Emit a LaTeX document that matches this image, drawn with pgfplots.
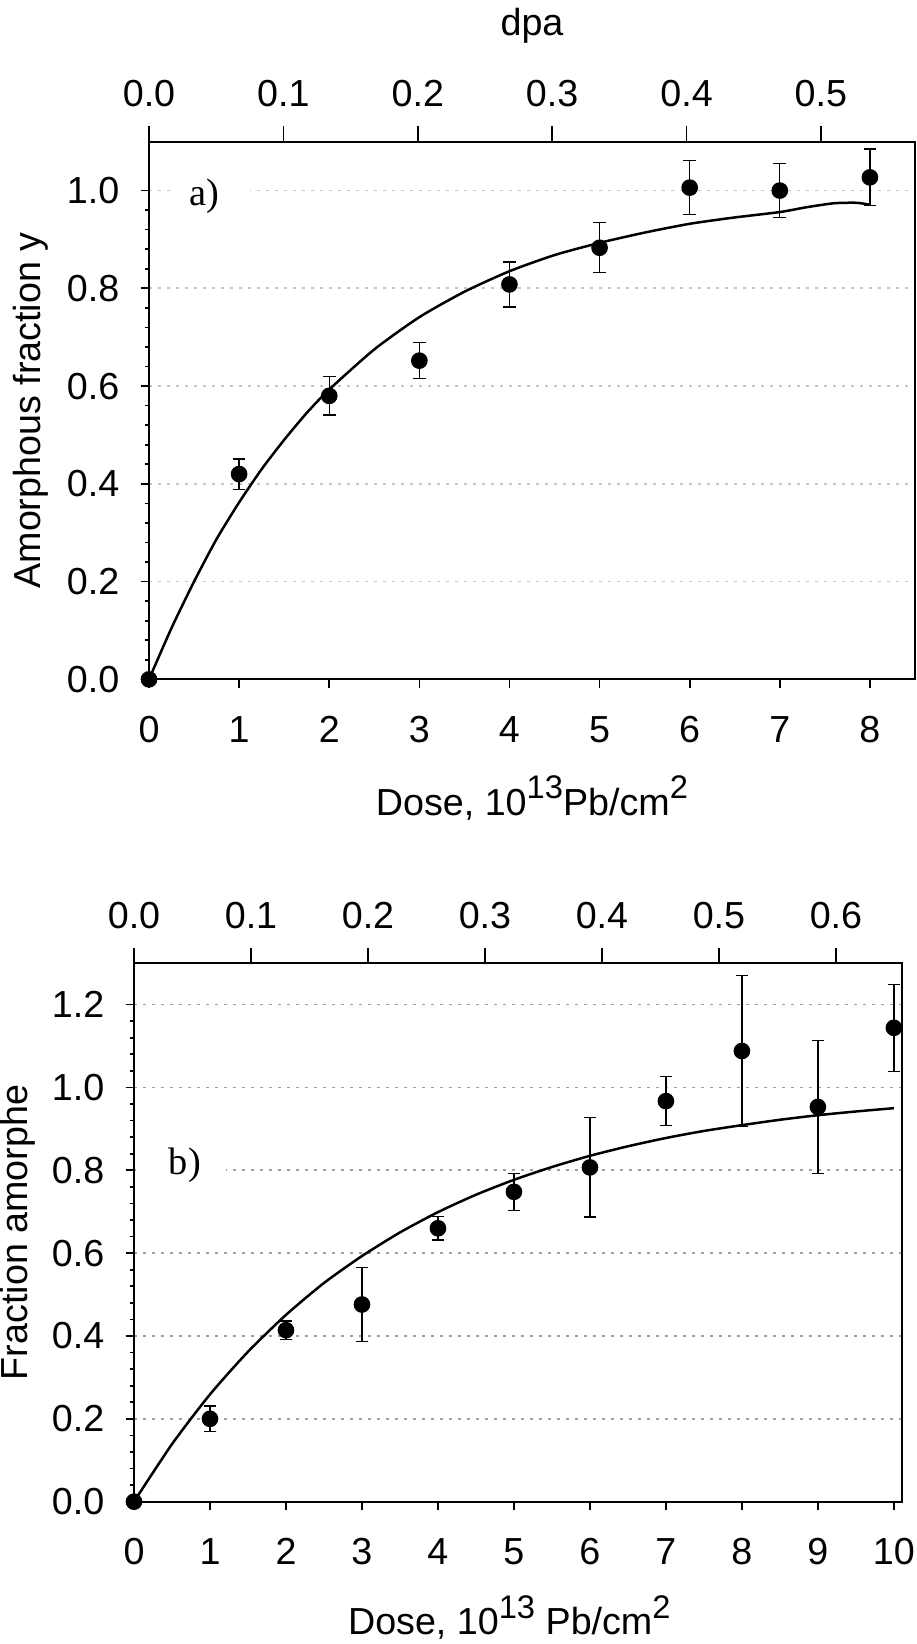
\documentclass[border=0pt]{standalone}
\usepackage{fontspec}
\setmainfont{Liberation Sans}
\newfontfamily\serifa{Liberation Serif}
\usepackage{pgfplots}
\pgfplotsset{compat=1.18}

% superscript as in the original figure (large, raised)
\newcommand{\sups}[1]{\raisebox{5pt}{\fontsize{9.8}{9.8}\selectfont #1}}

\pgfplotsset{
  panel/.style={
    scale only axis,
    tick align=outside,
    xtick pos=left, ytick pos=left,
    major tick length=2.5pt, minor tick length=1.1pt,
    minor y tick num=4,
    every tick/.style={black, line width=0.5pt},
    axis line style={line width=0.6pt},
    ymajorgrids,
    major grid style={dash pattern=on 1pt off 1.7pt, line width=0.5pt},
    yticklabel style={/pgf/number format/.cd, fixed, fixed zerofill, precision=1},
    /pgf/number format/assume math mode=true,
    tick label style={font=\fontsize{11.3}{13}\selectfont, inner sep=0pt},
    label style={font=\fontsize{11.3}{13}\selectfont, inner sep=0pt},
    xticklabel shift=8.4pt,
    yticklabel shift=6.2pt,
    clip=false,
    ymin=0, xmin=0,
  },
  dpa/.style={
    scale only axis,
    axis x line*=top, axis y line=none,
    tick align=outside,
    major tick length=4.7pt,
    every tick/.style={black, line width=0.5pt},
    axis line style={line width=0.6pt},
    xticklabel style={/pgf/number format/.cd, fixed, fixed zerofill, precision=1},
    /pgf/number format/assume math mode=true,
    tick label style={font=\fontsize{11.3}{13}\selectfont, inner sep=0pt},
    label style={font=\fontsize{11.3}{13}\selectfont, inner sep=0pt},
    xticklabel shift=5.4pt,
    xmin=0, ymin=0, ymax=1,
  },
  pts/.style={only marks, mark=*, mark size=2.3pt, black,
    error bars/.cd, y dir=both, y explicit,
    error bar style={line width=0.4pt, black},
    error mark options={rotate=90, mark size=1.9pt, line width=0.4pt, black}},
  fit/.style={black, line width=0.75pt, no marks, smooth, tension=0.4},
}

\begin{document}
\begin{tikzpicture}
\path[use as bounding box] (0,0) rectangle (275.1pt,-493.2pt);

% ---------- a) ----------
\begin{axis}[panel,
  at={(44.7pt,-203.8pt)}, anchor=south west,
  width=229.8pt, height=161.3pt,
  xmax=8.5, ymax=1.1,
  xtick={0,1,2,3,4,5,6,7,8},
  ytick={0,0.2,0.4,0.6,0.8,1.0},
  major grid style={gray!45},
  xlabel={Dose, 10\sups{13}Pb/cm\sups{2}},
  xlabel style={at={(axis description cs:0.5,-0.253)}, anchor=base},
  ylabel={Amorphous fraction y},
  ylabel style={at={(axis description cs:-0.141,0.5)}, anchor=base},
]
\node[fill=white, minimum width=24pt, minimum height=4pt, inner sep=0pt] at (axis cs:0.68,1.0) {};
\node[font=\serifa\fontsize{11.5}{13}\selectfont, inner sep=0pt] at (axis cs:0.62,0.989) {a)};
\addplot[fit] coordinates {
  (0,0) (0.25,0.105) (0.5,0.200) (0.75,0.287) (1,0.362) (1.25,0.430)
  (1.5,0.490) (1.75,0.545) (2,0.593) (2.5,0.675) (3,0.741) (3.5,0.793)
  (4,0.835) (4.5,0.868) (5,0.893) (5.5,0.914) (6,0.932) (6.5,0.945)
  (7,0.956) (7.3,0.966) (7.6,0.974) (7.85,0.975) (8,0.971)
};
\addplot[pts] coordinates {
  (0,0) +- (0,0)
  (1,0.420) +- (0,0.031)
  (2,0.580) +- (0,0.039)
  (3,0.652) +- (0,0.037)
  (4,0.808) +- (0,0.046)
  (5,0.883) +- (0,0.051)
  (6,1.006) +- (0,0.055)
  (7,1.000) +- (0,0.055)
  (8,1.027) +- (0,0.058)
};
\end{axis}
\begin{axis}[dpa,
  at={(44.7pt,-203.8pt)}, anchor=south west,
  width=229.8pt, height=161.3pt,
  xmax=0.570,
  xtick={0,0.1,0.2,0.3,0.4,0.5},
  xlabel={dpa},
  xlabel style={at={(axis description cs:0.5,1.197)}, anchor=base},
]
\end{axis}

% ---------- b) ----------
\begin{axis}[panel,
  at={(40.2pt,-450.5pt)}, anchor=south west,
  width=230.25pt, height=161.55pt,
  xmax=10.1, ymax=1.3,
  xtick={0,1,2,3,4,5,6,7,8,9,10},
  ytick={0,0.2,0.4,0.6,0.8,1.0,1.2},
  major grid style={gray!75},
  xlabel={Dose, 10\sups{13} Pb/cm\sups{2}},
  xlabel style={at={(axis description cs:0.489,-0.247)}, anchor=base},
  ylabel={Fraction amorphe},
  ylabel style={at={(axis description cs:-0.1388,0.5)}, anchor=base},
]
\node[fill=white, minimum width=27pt, minimum height=4pt, inner sep=0pt, anchor=west] at (axis cs:0.02,0.8) {};
\node[font=\serifa\fontsize{11.5}{13}\selectfont, inner sep=0pt] at (axis cs:0.67,0.811) {b)};
\addplot[fit] coordinates {
  (0,0) (0.5,0.139) (1,0.259) (1.5,0.362) (2,0.451) (2.5,0.528)
  (3,0.593) (3.5,0.650) (4,0.699) (4.5,0.741) (5,0.777) (5.5,0.808)
  (6,0.835) (6.5,0.858) (7,0.878) (7.5,0.895) (8,0.909) (8.5,0.922)
  (9,0.933) (9.5,0.942) (10,0.950)
};
\addplot[pts] coordinates {
  (0,0) +- (0,0)
  (1,0.200) +- (0,0.031)
  (2,0.414) +- (0,0.022)
  (3,0.476) +- (0,0.089)
  (4,0.660) +- (0,0.028)
  (5,0.748) +- (0,0.045)
  (6,0.807) +- (0,0.120)
  (7,0.967) +- (0,0.059)
  (8,1.088) +- (0,0.182)
  (9,0.953) +- (0,0.160)
  (10,1.144) +- (0,0.105)
};
\end{axis}
\begin{axis}[dpa,
  at={(40.2pt,-450.5pt)}, anchor=south west,
  width=230.25pt, height=161.55pt,
  xmax=0.656,
  xtick={0,0.1,0.2,0.3,0.4,0.5,0.6},
]
\end{axis}
\end{tikzpicture}
\end{document}
